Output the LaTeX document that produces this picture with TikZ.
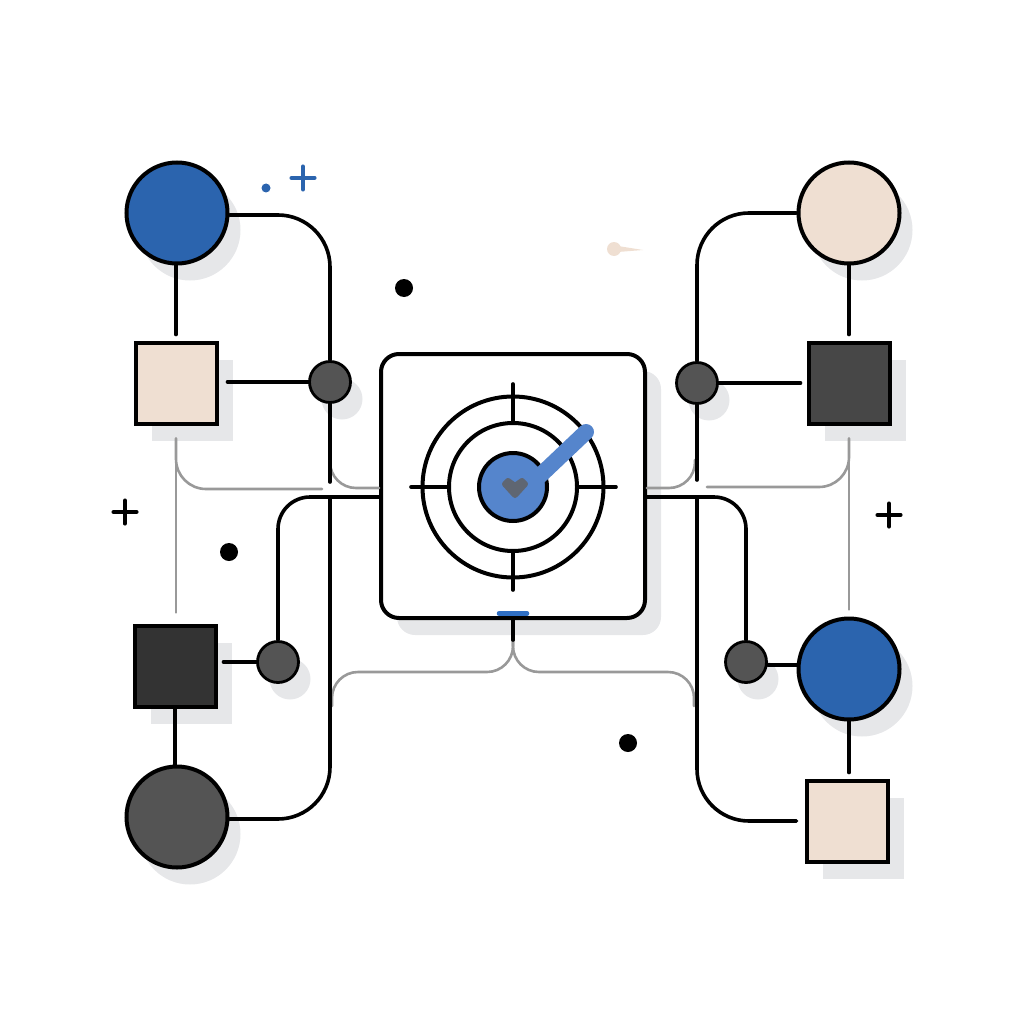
\documentclass[tikz,border=0pt]{standalone}
\usepackage{tikz}
\usetikzlibrary{arrows.meta,positioning,calc,shadows,shapes.misc}
\definecolor{tgblue}{HTML}{2B64AE}
\definecolor{tgsky}{HTML}{5585CC}
\definecolor{tgbar}{HTML}{2F6FC4}
\definecolor{tgpeach}{HTML}{EFDFD2}
\definecolor{tgshade}{HTML}{E6E7E9}
\definecolor{tgfaint}{HTML}{999999}
\definecolor{tgheart}{HTML}{5F6672}
\tikzset{
  tgshadow/.style={drop shadow={shadow xshift=#1,shadow yshift=-17pt,fill=tgshade,opacity=1}},
  tgbig/.style={
    circle, draw=black, line width=4pt, minimum size=101pt, inner sep=0pt, tgshadow=13pt
  },
  tgsquare/.style={
    rectangle, draw=black, line width=4pt, minimum size=81pt, inner sep=0pt, tgshadow=16pt
  },
  tgjoint/.style={
    circle, draw=black, line width=2.8pt, fill=black!67, minimum size=41pt, inner sep=0pt, tgshadow=12pt
  },
  tghub/.style={
    rectangle, rounded corners=18pt, draw=black, fill=white, line width=4pt,
    minimum size=264pt, inner sep=0pt, tgshadow=16pt
  },
  tgring/.style={circle, draw=black, line width=4pt, inner sep=0pt},
  tgdot/.style={circle, fill=black, minimum size=18pt, inner sep=0pt},
  tgplus/.style={cross out, draw=black, line width=3.6pt, line cap=round, rotate=45,
    minimum size=13pt, inner sep=0pt},
  tglink/.style={draw=black, line width=3.6pt, line cap=round},
  tgwire/.style={draw=tgfaint, line width=2.6pt, line cap=round}
}

\begin{document}
\begin{tikzpicture}[x=1pt,y=-1pt]
  \useasboundingbox (0,0) rectangle (1024,1024);

  % Central panel
  \node[tghub] (hub) at (513,486) {};
  \node[tgring,minimum size=181pt] (ringA) at (513,487) {};
  \node[tgring,minimum size=128pt] (ringB) at (513,487) {};
  \node[tgring,minimum size=68pt,fill=tgsky] (ringC) at (513,487) {};
  \coordinate (tickN) at (513,384);
  \coordinate (tickS) at (513,590);
  \coordinate (tickW) at (411,487);
  \coordinate (tickE) at (616,487);
  \draw[tglink] (tickN) -- (ringB.north);
  \draw[tglink] (ringB.south) -- (tickS);
  \draw[tglink] (tickW) -- (ringB.west);
  \draw[tglink] (ringB.east) -- (tickE);
  \draw[line width=16pt,line cap=round,tgsky] (528,487) -- (586,432);
  \fill[tgsky] (ringC) circle (30pt);
  \draw[fill=tgheart,draw=tgheart,line width=6pt,line join=round]
    (505,484) -- (508,481) -- (515,486) -- (522,481) -- (525,484) -- (515,495) -- cycle;
  \draw[line width=4.5pt,line cap=round,tgbar] (499,613.5) -- (527,613.5);

  % Left column
  \node[tgbig,fill=tgblue] (cTL) at (177,213) {};
  \node[tgsquare,fill=tgpeach] (sTL) at (176,383) {};
  \node[tgjoint] (pTL) at (330,382) {};
  \node[tgsquare,fill=black!80] (sBL) at (175,666) {};
  \node[tgjoint] (pBL) at (278,662) {};
  \node[tgbig,fill=black!67] (cBL) at (177,817) {};

  % Right column
  \node[tgbig,fill=tgpeach] (cTR) at (849,213) {};
  \node[tgsquare,fill=black!72] (sTR) at (849,383) {};
  \node[tgjoint] (pTR) at (697,383) {};
  \node[tgbig,fill=tgblue] (cBR) at (849,669) {};
  \node[tgjoint] (pBR) at (746,662) {};
  \node[tgsquare,fill=tgpeach] (sBR) at (847,821) {};

  % Free wire ends
  \coordinate (endTL) at (330,482);
  \coordinate (endTR) at (697,480);
  \coordinate (topBL) at (330,497);
  \coordinate (topBR) at (697,497);
  \coordinate (wireL) at (322,489);
  \coordinate (wireR) at (707,487);
  \coordinate (hookL) at (330,462);
  \coordinate (hookR) at (695,460);
  \coordinate (stem) at (513,640);
  \coordinate (footL) at (332,706);
  \coordinate (footR) at (694,706);

  % Grey wires
  \draw[tgwire,shorten <=13pt,shorten >=11pt] (sTL.south) -- (sTL.south |- sBL.north);
  \draw[tgwire,shorten <=13pt,shorten >=7pt] (sTR.south) -- (cBR.north);
  \draw[tgwire,rounded corners=30pt,shorten <=13pt] (sTL.south) |- (wireL);
  \draw[tgwire,rounded corners=30pt,shorten <=13pt] (sTR.south) |- (wireR);
  \draw[tgwire,rounded corners=26pt] (hookL) |- ([yshift=-2pt]hub.west);
  \draw[tgwire,rounded corners=26pt] (hookR) |- ([yshift=-2pt]hub.east);
  \draw[tgwire,rounded corners=26pt] (stem) |- (332,672) -- (footL);
  \draw[tgwire,rounded corners=26pt] (stem) |- (694,672) -- (footR);

  % Black wires, left
  \draw[tglink,shorten >=6pt] (sTL.north |- cTL.south) -- (sTL.north);
  \draw[tglink,rounded corners=52pt] ([yshift=-2pt]cTL.east) -| (pTL.north);
  \draw[tglink] (pTL.south) -- (endTL);
  \draw[tglink,shorten <=9pt] (sTL.east |- pTL.west) -- (pTL.west);
  \draw[tglink,rounded corners=32pt] ([yshift=-11pt]hub.west) -| (pBL.north);
  \draw[tglink,rounded corners=52pt] (topBL) |- ([yshift=-2pt]cBL.east);
  \draw[tglink,shorten <=6pt] (sBL.east |- pBL.west) -- (pBL.west);
  \draw[tglink] (sBL.south) -- (sBL.south |- cBL.north);

  % Black wires, right
  \draw[tglink,shorten >=6pt] (cTR.south) -- (sTR.north);
  \draw[tglink,rounded corners=52pt] (cTR.west) -| (pTR.north);
  \draw[tglink] (pTR.south) -- (endTR);
  \draw[tglink,shorten <=6pt] (sTR.west) -- (pTR.east);
  \draw[tglink,rounded corners=32pt] ([yshift=-11pt]hub.east) -| (pBR.north);
  \draw[tglink,rounded corners=52pt,shorten >=8pt] (topBR) |- (sBR.west);
  \draw[tglink] ([yshift=-3pt]pBR.east) -- ([yshift=4pt]cBR.west);
  \draw[tglink,shorten >=6pt] (cBR.south) -- (cBR.south |- sBR.north);
  \draw[tglink] (hub.south) -- (stem);

  % Loose marks
  \node[tgdot] (dotA) at (404,288) {};
  \node[tgdot] (dotB) at (229,552) {};
  \node[tgdot] (dotC) at (628,743) {};
  \node[tgdot,fill=tgblue,minimum size=9pt] (dotD) at (266,188) {};
  \node[tgplus,draw=tgblue] (plusA) at (303,178) {};
  \node[tgplus] (plusB) at (125,512) {};
  \node[tgplus] (plusC) at (889,515) {};
  \node[circle,fill=tgpeach,minimum size=14pt,inner sep=0pt] (comet) at (614,249) {};
  \fill[tgpeach] (618,246) -- (643,250) -- (618,252) -- cycle;
\end{tikzpicture}
\end{document}
